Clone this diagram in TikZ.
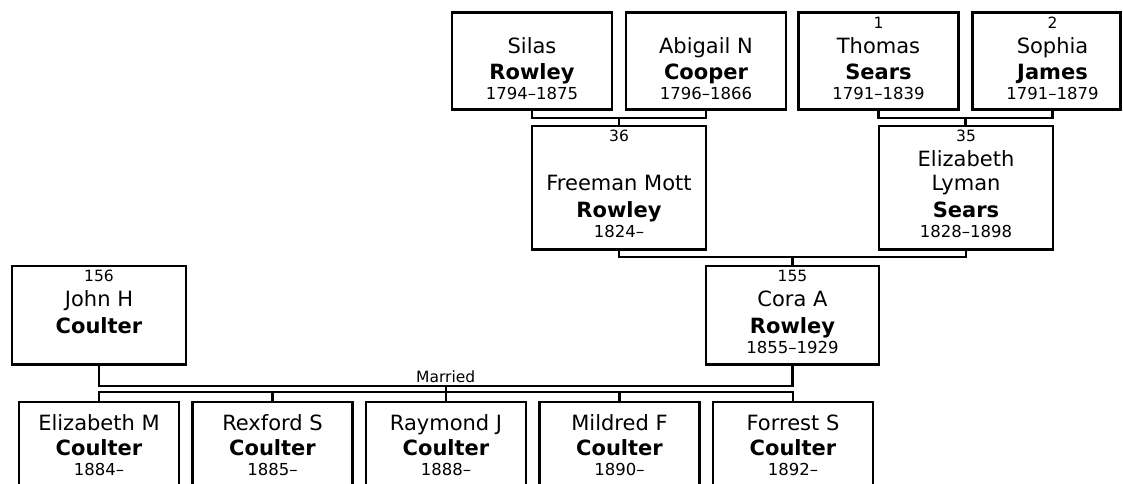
\documentclass[tikz,border=0pt]{standalone}
\usepackage{fontspec}
\setmainfont{DejaVu Sans}
\usetikzlibrary{positioning, calc}

% text inside a person card
\newcommand{\cardfmt}{\centering\baselineskip=0pt\lineskip=0pt\lineskiplimit=-\maxdimen}
\newcommand{\numfont}{\fontsize{15.5}{0}\selectfont}
\newcommand{\datefont}{\fontsize{16.5}{0}\selectfont}
\newcommand{\namefont}{\fontsize{21}{0}\selectfont}
% \pinfo[gap]{number}{given names}{surname}{dates}
\newcommand{\pinfo}[5][25pt]{\rule{0pt}{15.5pt}{\numfont #2}\\[#1]{\namefont #3}\\[26.5pt]{\namefont\bfseries #4}\\[20pt]{\datefont #5}}
% \kinfo{given names}{surname}{dates}
\newcommand{\kinfo}[3]{\rule{0pt}{28pt}{\namefont #1}\\[25pt]{\namefont\bfseries #2}\\[20pt]{\datefont #3}}
\newcommand{\card}[3]{\parbox[c][#2][t]{#1}{\cardfmt #3}}

\begin{document}
\begin{tikzpicture}[
  x=1pt, y=-1pt,
  person/.style={draw, line width=2.2pt, inner sep=0pt, outer sep=0pt, anchor=north},
  link/.style={line width=2.2pt},
  tag/.style={inner sep=2pt, font=\fontsize{15.5}{0}\selectfont}
]
\useasboundingbox (0,0) rectangle (1123,483);

% Grandparents
\node[person] (silas) at (532,12.5) {\card{160pt}{97pt}{\pinfo{}{Silas}{Rowley}{1794–1875}}};
\node[person, right=14pt of silas] (abigail) {\card{160pt}{97pt}{\pinfo{}{Abigail N}{Cooper}{1796–1866}}};
\node[person, right=12.5pt of abigail] (thomas) {\card{160pt}{97pt}{\pinfo{1}{Thomas}{Sears}{1791–1839}}};
\node[person, right=14pt of thomas] (sophia) {\card{148pt}{97pt}{\leftskip=12pt plus 1fil \pinfo{2}{Sophia}{James}{1791–1879}}};

% Parents
\node[person] (freeman) at (619,126) {\card{174pt}{123.5pt}{\pinfo[49pt]{36}{Freeman Mott}{Rowley}{1824–}}};
\node[person] (lyman) at (966,126) {\card{174pt}{123.5pt}{\pinfo{35}{Elizabeth\\[24pt]Lyman}{Sears}{1828–1898}}};

% Couple
\node[person] (john) at (99,266) {\card{173.5pt}{98.5pt}{\pinfo{156}{John H}{Coulter}{}}};
\node[person] (cora) at (792.5,266) {\card{173.5pt}{98.5pt}{\pinfo{155}{Cora A}{Rowley}{1855–1929}}};

% Children
\node[person] (elizabethm) at (99,402) {\card{160pt}{97pt}{\kinfo{Elizabeth M}{Coulter}{1884–}}};
\node[person, right=13.5pt of elizabethm] (rexford) {\card{160pt}{97pt}{\kinfo{Rexford S}{Coulter}{1885–}}};
\node[person, right=13.5pt of rexford] (raymond) {\card{160pt}{97pt}{\kinfo{Raymond J}{Coulter}{1888–}}};
\node[person, right=13.5pt of raymond] (mildred) {\card{160pt}{97pt}{\kinfo{Mildred F}{Coulter}{1890–}}};
\node[person, right=13.5pt of mildred] (forrests) {\card{160pt}{97pt}{\kinfo{Forrest S}{Coulter}{1892–}}};

% Bars
\coordinate (sa) at ($(silas.south)!.5!(abigail.south)+(0,8.5)$);
\coordinate (sophiamid) at ([xshift=80pt]sophia.south west);
\coordinate (ts) at ($(thomas.south)!.5!(sophiamid)+(0,8.5)$);
\coordinate (fl) at ($(freeman.south)!.5!(lyman.south)+(0,7.5)$);
\coordinate (jc) at ($(john.south)!.5!(cora.south)+(0,21.5)$);
\coordinate (kids) at ($(jc)+(0,6)$);

\draw[link] (silas.south) |- (sa) -| (abigail.south);
\draw[link] (sa) -- (freeman.north);
\draw[link] (thomas.south) |- (ts) -| (sophiamid);
\draw[link] (ts) -- (ts |- lyman.north);
\draw[link] (freeman.south) |- (fl) -| (lyman.south);
\draw[link] (fl) -- (cora.north);
\draw[link] (john.south) |- (jc) -| (cora.south);
\node[tag, above=1.5pt of jc] (married) {Married};
\draw[link] (jc) -- (kids);
\draw[link] (elizabethm.north) |- (forrests.north |- kids) -- (forrests.north);
\foreach \k in {rexford, raymond, mildred} \draw[link] (\k.north) -- (\k.north |- kids);

\end{tikzpicture}
\end{document}
